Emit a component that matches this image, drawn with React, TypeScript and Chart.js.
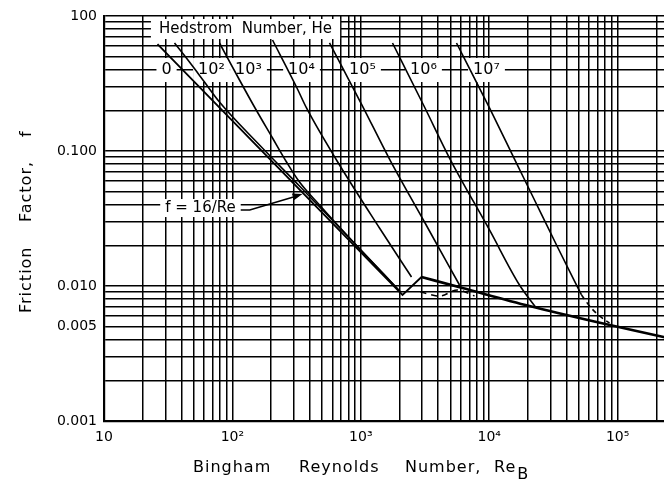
import React, { useEffect, useRef } from 'react';
import { Chart, registerables } from 'chart.js';

Chart.register(...registerables);

const FONT = '"DejaVu Sans", sans-serif';

// ---- Data: Bingham Reynolds number (Re) vs friction factor (f) ----
// He = 0 laminar line (f = 16/Re) down to the transition kink
const he0Re = [26.1, 2113, 2970];
const he0F = [0.62, 0.00858, 0.01166];
// He = 10^2
const he2Re = [35.4, 46.3, 60.6, 79.3, 162.6, 333.1, 816.6, 2038];
const he2F = [0.631, 0.456, 0.3245, 0.2307, 0.1108, 0.055, 0.0227, 0.00903];
// He = 10^3
const he3Re = [79.3, 113.6, 148.6, 205.3, 263.8, 333.1, 476.9, 816.6, 2038];
const he3F = [0.631, 0.3357, 0.2118, 0.1248, 0.0829, 0.0589, 0.0398, 0.0227, 0.00903];
// He = 10^4
const he4Re = [205.3, 315.7, 377.6, 646.6, 1398, 2483];
const he4F = [0.664, 0.2979, 0.2083, 0.0858, 0.0269, 0.01166];
// He = 10^5
const he5Re = [570.5, 1031, 1673, 3134, 5871];
const he5F = [0.631, 0.2154, 0.0872, 0.02979, 0.01017];
// He = 10^6
const he6Re = [1766, 3134, 4908, 10050, 17220, 22940];
const he6F = [0.631, 0.2118, 0.0887, 0.026, 0.01017, 0.00699];
// He = 10^7 (solid part, then dashed end)
const he7Re = [5563, 10053, 15465, 22530, 34030, 52350];
const he7F = [0.631, 0.2083, 0.0902, 0.04335, 0.01945, 0.00858];
const he7DashRe = [52350, 60420, 72280, 86480];
const he7DashF = [0.00858, 0.00711, 0.006, 0.00532];
// transition (dashed) below the turbulent line
const transRe = [2917, 4102, 5664, 7684];
const transF = [0.00903, 0.00843, 0.00934, 0.00843];
// turbulent line
const turbRe = [2970, 6196, 20600, 68500, 227800, 363000];
const turbF = [0.01166, 0.00966, 0.00711, 0.00541, 0.00419, 0.00378];

// ---- Axis ticks ----
const X_MIN = 10;
const X_MAX = 285000;
const Y_MIN = 0.001;
const Y_MAX = 1;
const xTickValues = [10, 100, 1000, 10000, 100000];
const xTickLabels = ['10', '10²', '10³', '10⁴', '10⁵'];
const yTickValues = [1, 0.1, 0.01, 0.005, 0.001];
const yTickLabels = ['100', '0.100', '0.010', '0.005', '0.001'];

// ---- Curve labels (Hedstrom numbers) ----
const heLabels = ['0', '10²', '10³', '10⁴', '10⁵', '10⁶', '10⁷'];
const heLabelRe = [30.7, 68.7, 133.5, 345.3, 1031, 3078, 9528];
const heLabelF = 0.398;
const hedstromTitle = 'Hedstrom  Number, He';
const hedstromAt = { re: 126.5, f: 0.801 };
const lawLabel = 'f = 16/Re';
const lawAt = { re: 56.4, f: 0.0378 };
const lawArrowTip = { re: 351.6, f: 0.048 };

const xTitleWords = ['Bingham', 'Reynolds', 'Number,', 'Re'];
const xTitleSub = 'B';
const yTitleWords = ['Friction', 'Factor,', 'f'];

function gridTicks(min: number, max: number): number[] {
  const out: number[] = [];
  const e0 = Math.floor(Math.log10(min));
  const e1 = Math.ceil(Math.log10(max));
  for (let e = e0; e <= e1; e++) {
    for (let m = 1; m <= 9; m++) {
      const v = +(m * Math.pow(10, e)).toPrecision(6);
      if (v >= min * 0.99999 && v <= max * 1.00001) out.push(v);
    }
  }
  return out;
}

function labelFor(values: number[], labels: string[], v: number): string {
  const i = values.findIndex((t) => Math.abs(t - v) / t < 1e-6);
  return i >= 0 ? labels[i] : '';
}

const pts = (re: number[], f: number[]) => re.map((r, i) => ({ x: r, y: f[i] }));

function ds(re: number[], f: number[], width: number, opts: any = {}) {
  return {
    data: pts(re, f),
    borderColor: '#000',
    borderWidth: width,
    pointRadius: 0,
    fill: false,
    cubicInterpolationMode: 'monotone',
    ...opts,
  };
}

const annotations = {
  id: 'annotations',
  beforeDatasetsDraw(chart: any) {
    const { ctx } = chart;
    const x = chart.scales.x;
    const y = chart.scales.y;
    ctx.save();
    ctx.textAlign = 'center';
    ctx.textBaseline = 'middle';
    const boxed = (text: string, px: number, py: number, font: string, padX: number, h: number) => {
      ctx.font = font;
      const w = ctx.measureText(text).width;
      ctx.fillStyle = '#fff';
      ctx.fillRect(px - w / 2 - padX, py - h / 2, w + 2 * padX, h);
      ctx.fillStyle = '#000';
      ctx.fillText(text, px, py);
    };
    boxed(hedstromTitle, x.getPixelForValue(hedstromAt.re), y.getPixelForValue(hedstromAt.f), `15px ${FONT}`, 8, 20);
    heLabels.forEach((t, i) => {
      boxed(t, x.getPixelForValue(heLabelRe[i]), y.getPixelForValue(heLabelF), `16px ${FONT}`, 5, 24);
    });
    const lx = x.getPixelForValue(lawAt.re);
    const ly = y.getPixelForValue(lawAt.f);
    boxed(lawLabel, lx, ly, `15px ${FONT}`, 5, 18);
    ctx.font = `15px ${FONT}`;
    const lw = ctx.measureText(lawLabel).width;
    const sx = lx + lw / 2 + 5;
    const tx = x.getPixelForValue(lawArrowTip.re);
    const ty = y.getPixelForValue(lawArrowTip.f);
    ctx.strokeStyle = '#000';
    ctx.lineWidth = 1.6;
    ctx.beginPath();
    ctx.moveTo(sx, ly + 2);
    ctx.lineTo(sx + 9, ly + 2);
    ctx.lineTo(tx - 4, ty + 1.5);
    ctx.stroke();
    const ang = Math.atan2(ty - (ly + 2), tx - (sx + 9));
    ctx.beginPath();
    ctx.moveTo(tx, ty);
    ctx.lineTo(tx - 10 * Math.cos(ang) + 3.5 * Math.sin(ang), ty - 10 * Math.sin(ang) - 3.5 * Math.cos(ang));
    ctx.lineTo(tx - 10 * Math.cos(ang) - 3.5 * Math.sin(ang), ty - 10 * Math.sin(ang) + 3.5 * Math.cos(ang));
    ctx.closePath();
    ctx.fillStyle = '#000';
    ctx.fill();
    ctx.restore();
  },
  afterDraw(chart: any) {
    const { ctx } = chart;
    ctx.save();
    ctx.fillStyle = '#000';
    ctx.font = `16px ${FONT}`;
    (ctx as any).letterSpacing = '1px';
    ctx.textAlign = 'left';
    ctx.textBaseline = 'middle';
    // x title
    const xStarts = [193, 299, 405, 494];
    const ty = 468;
    xTitleWords.forEach((w, i) => ctx.fillText(w, xStarts[i], ty));
    const reW = ctx.measureText(xTitleWords[3]).width;
    ctx.fillText(xTitleSub, xStarts[3] + reW + 1, ty + 7);
    // y title (rotated)
    ctx.translate(27, 0);
    ctx.rotate(-Math.PI / 2);
    const yStarts = [313, 222, 137];
    yTitleWords.forEach((w, i) => ctx.fillText(w, -yStarts[i], 0));
    ctx.restore();
  },
};

export default function App() {
  const ref = useRef<HTMLCanvasElement | null>(null);

  useEffect(() => {
    document.body.style.margin = '0';
    const canvas = ref.current;
    if (!canvas) return;
    const chart = new Chart(canvas, {
      type: 'line',
      data: {
        datasets: [
          ds(he0Re, he0F, 1.8, { cubicInterpolationMode: 'default', tension: 0 }),
          ds(he2Re, he2F, 1.6),
          ds(he3Re, he3F, 1.6),
          ds(he4Re, he4F, 1.6),
          ds(he5Re, he5F, 1.6),
          ds(he6Re, he6F, 1.6),
          ds(he7Re, he7F, 1.6),
          ds(he7DashRe, he7DashF, 1.6, { borderDash: [5, 4] }),
          ds(transRe, transF, 1.5, { borderDash: [6, 5] }),
          ds(turbRe, turbF, 2.6),
        ] as any,
      },
      options: {
        responsive: false,
        animation: false,
        events: [],
        layout: { padding: { top: 16, right: 4, bottom: 0, left: 0 } },
        plugins: {
          legend: { display: false },
          tooltip: { enabled: false },
        },
        scales: {
          x: {
            type: 'logarithmic',
            min: X_MIN,
            max: X_MAX,
            afterBuildTicks: (s: any) => {
              s.ticks = gridTicks(X_MIN, X_MAX).map((v) => ({ value: v }));
            },
            afterFit: (s: any) => {
              s.height = 66;
            },
            grid: { color: '#000', lineWidth: 1.5, drawTicks: false },
            border: { display: true, color: '#000', width: 2.2 },
            ticks: {
              autoSkip: false,
              maxRotation: 0,
              minRotation: 0,
              padding: 8,
              color: '#000',
              font: { family: FONT, size: 14 },
              callback: (v: any) => labelFor(xTickValues, xTickLabels, Number(v)),
            },
          },
          y: {
            type: 'logarithmic',
            min: Y_MIN,
            max: Y_MAX,
            afterBuildTicks: (s: any) => {
              s.ticks = gridTicks(Y_MIN, Y_MAX).map((v) => ({ value: v }));
            },
            afterFit: (s: any) => {
              s.width = 104;
            },
            grid: { color: '#000', lineWidth: 1.5, drawTicks: false },
            border: { display: true, color: '#000', width: 2.2 },
            ticks: {
              autoSkip: false,
              padding: 7,
              color: '#000',
              font: { family: FONT, size: 14 },
              callback: (v: any) => labelFor(yTickValues, yTickLabels, Number(v)),
            },
          },
        },
      } as any,
      plugins: [annotations],
    });
    return () => chart.destroy();
  }, []);

  return (
    <div style={{ width: 664, height: 487, overflow: 'hidden', position: 'relative', background: '#fff' }}>
      <canvas ref={ref} width={680} height={487} style={{ display: 'block' }} />
    </div>
  );
}
